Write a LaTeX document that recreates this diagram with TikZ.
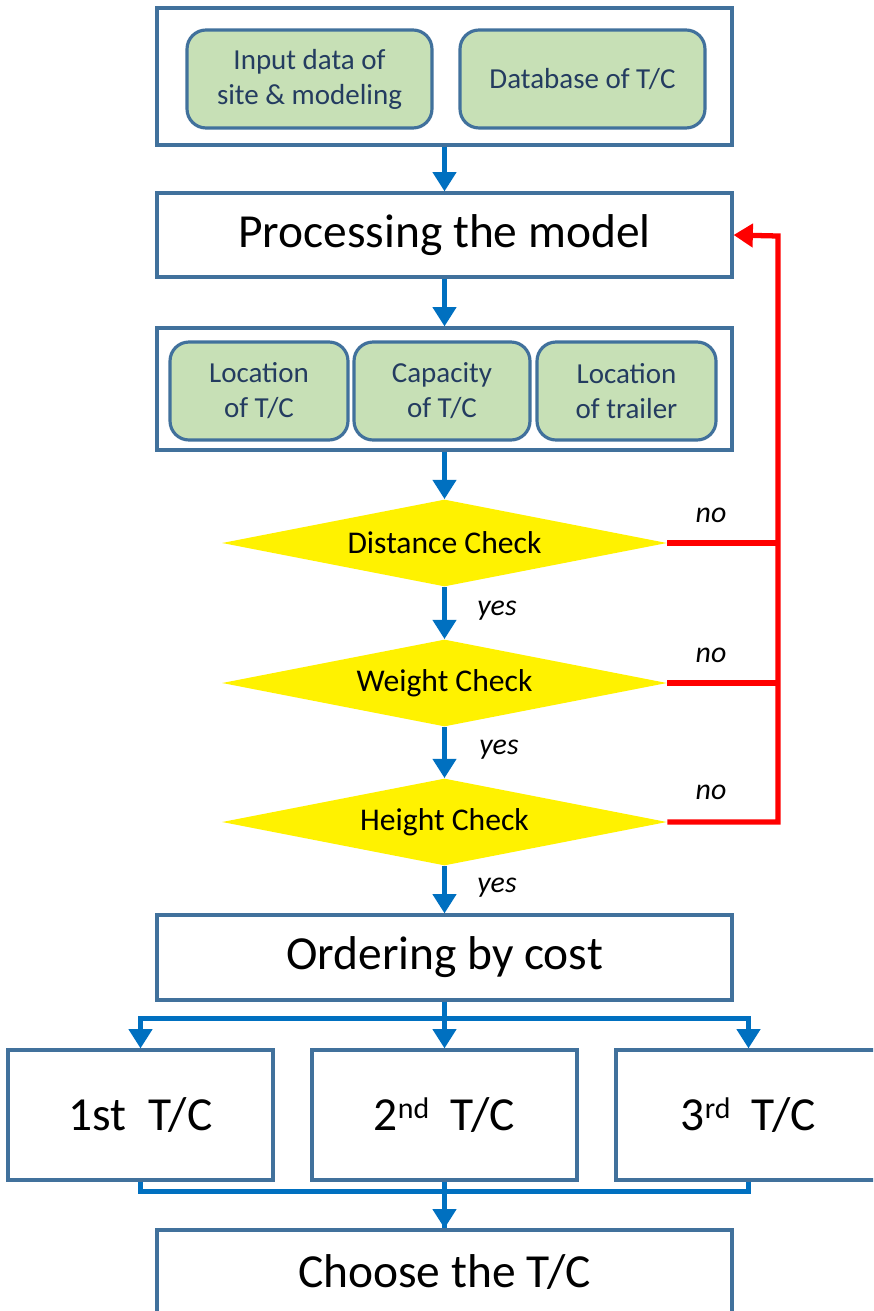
\documentclass[tikz,border=0pt]{standalone}
\usepackage{fontspec}
\setmainfont{Carlito}
\usepackage{tikz}
\usetikzlibrary{arrows.meta,shapes.geometric}
\definecolor{boxblue}{RGB}{65,113,156}
\definecolor{arrblue}{RGB}{0,112,192}
\definecolor{boxgreen}{RGB}{199,224,182}
\definecolor{greentext}{RGB}{36,60,96}

\begin{document}
\begin{tikzpicture}[line join=miter,>={Triangle[length=11pt,width=13pt]},x=0.02cm,y=-0.02cm,
        frame/.style={draw=boxblue,line width=1.8pt,fill=white,minimum width=11.5cm,inner sep=0pt,font=\fontsize{27}{32}\selectfont},
        item/.style={draw=boxblue,line width=1.8pt,fill=boxgreen,rounded corners=0.38cm,minimum height=1.96cm,inner sep=0pt,
            align=center,text=greentext,font=\fontsize{16.5}{20}\selectfont},
        check/.style={diamond,fill=yellow,minimum width=8.9cm,minimum height=1.74cm,aspect=5.1,inner sep=0pt,font=\fontsize{18}{22}\selectfont},
        tcbox/.style={draw=boxblue,line width=1.8pt,fill=white,minimum width=5.3cm,minimum height=2.6cm,inner sep=0pt,font=\fontsize{27}{32}\selectfont},
        flow/.style={draw=arrblue,line width=3pt},
        back/.style={draw=red,line width=3pt},
        lbl/.style={font=\itshape\fontsize{17}{20}\selectfont}]
        \newcommand{\ordsup}[1]{\raisebox{0.55ex}{\fontsize{17}{20}\selectfont #1}}
        \clip (0,0) rectangle (873,1311);
        % inputs
        \node[frame,minimum height=2.74cm] (inp) at (444.5,76.5) {};
        \node[item,minimum width=4.9cm] (site) at (309.5,79) {Input data of\\site \& modeling};
        \node[item,minimum width=4.9cm] (db) at (582.5,79) {Database of T/C};
        \node[frame,minimum height=1.68cm] (proc) at (444.5,235) {Processing the model};
        % outputs of the model
        \node[frame,minimum height=2.44cm] (res) at (444.5,389) {};
        \node[item,minimum width=3.56cm] (loc) at (259,391) {Location\\of T/C};
        \node[item,minimum width=3.52cm] (cap) at (442,391) {Capacity\\of T/C};
        \node[item,minimum width=3.58cm] (trl) at (626.5,391) {Location\\of trailer};
        % checks
        \node[check] (dist) at (444.5,543) {Distance Check};
        \node[check] (wgt) at (444.5,683) {Weight Check};
        \node[check] (hgt) at (444.5,822) {Height Check};
        \node[frame,minimum height=1.7cm] (ord) at (444.5,957.5) {Ordering by cost};
        \node[tcbox] (tc1) at (140.5,1115) {1st\ \ T/C};
        \node[tcbox] (tc2) at (444.5,1115) {2\ordsup{nd}\ \ T/C};
        \node[tcbox] (tc3) at (748.5,1115) {3\ordsup{rd}\ \ T/C};
        \node[frame,minimum height=1.68cm] (cho) at (444.5,1272) {Choose the T/C};
        \coordinate (rt) at (778,236);
        % blue flow
        \draw[flow,->] (inp.south) -- (proc.north);
        \draw[flow,->] (proc.south) -- (res.north);
        \draw[flow,->] (res.south) -- (dist.north);
        \draw[flow,->] (dist.south) -- (wgt.north);
        \draw[flow,->] (wgt.south) -- (hgt.north);
        \draw[flow,->] (hgt.south) -- (ord.north);
        \draw[flow,->] (ord.south) -- (tc2.north);
        \draw[flow,->] (ord.south) -- ++(0,17) -| (tc1.north);
        \draw[flow,->] (ord.south) -- ++(0,17) -| (tc3.north);
        \draw[flow,->] (tc2.south) -- (cho.north);
        \draw[flow] (tc1.south) -- ++(0,10) -| (cho.north);
        \draw[flow] (tc3.south) -- ++(0,10) -| (cho.north);
        % red loop back
        \draw[back,->] (hgt.east) -| (rt) -- (proc.east);
        \draw[back] (dist.east) -- (dist.east -| rt);
        \draw[back] (wgt.east) -- (wgt.east -| rt);
        \node[lbl] (y1) at (497,611) {yes};
        \node[lbl] (y2) at (499,750) {yes};
        \node[lbl] (y3) at (497,888) {yes};
        \node[lbl] (n1) at (711,515) {no};
        \node[lbl] (n2) at (711,655) {no};
        \node[lbl] (n3) at (711,792) {no};
\end{tikzpicture}
\end{document}
